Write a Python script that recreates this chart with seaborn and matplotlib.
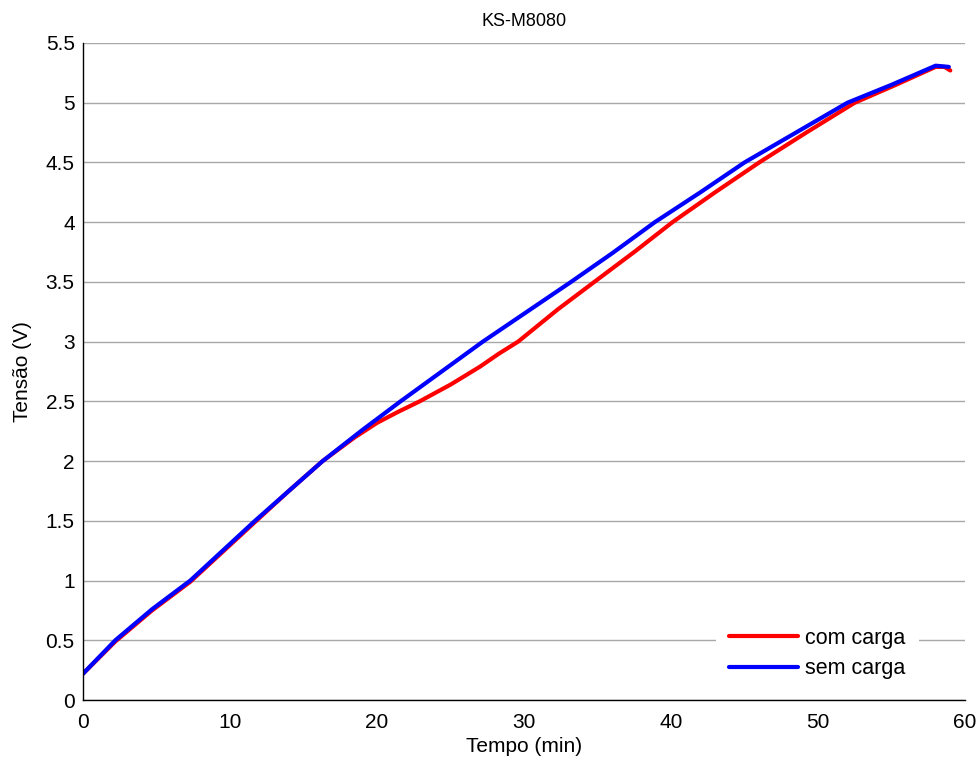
import numpy as np
import pandas as pd
import seaborn as sns
import matplotlib
matplotlib.use("Agg")
import matplotlib.pyplot as plt

# Data
t_com = [0, 1.1, 2.2, 4.7, 7.3, 9.5, 11.7, 14.0, 16.3, 18.5, 20.0, 21.4, 22.9, 25.0, 27.0, 28.3, 29.6,
         32.3, 35.0, 37.6, 40.1, 43.0, 46.0, 49.2, 52.5, 55.3, 58.0, 58.6, 59.0]
v_com = [0.22, 0.355, 0.49, 0.75, 0.99, 1.24, 1.49, 1.75, 2.0, 2.2, 2.32, 2.41, 2.5, 2.64, 2.79, 2.9, 3.0,
         3.27, 3.52, 3.76, 4.0, 4.25, 4.5, 4.75, 5.0, 5.15, 5.30, 5.30, 5.27]
t_sem = [0, 1.1, 2.2, 4.7, 7.3, 9.5, 11.7, 14.0, 16.3, 19.0, 21.6, 24.4, 27.2, 30.2, 33.2, 36.0, 38.9,
         42.0, 45.0, 48.5, 52.0, 55.0, 58.0, 58.9]
v_sem = [0.22, 0.36, 0.5, 0.76, 1.0, 1.25, 1.5, 1.75, 2.0, 2.26, 2.5, 2.75, 3.0, 3.25, 3.5, 3.74, 4.0,
         4.25, 4.5, 4.75, 5.0, 5.15, 5.31, 5.30]
labels = ["com carga", "sem carga"]
colors = ["#ff0000", "#0000ff"]
x_ticks = [0, 10, 20, 30, 40, 50, 60]
y_ticks = [0, 0.5, 1, 1.5, 2, 2.5, 3, 3.5, 4, 4.5, 5, 5.5]
y_ticklabels = ["0", "0.5", "1", "1.5", "2", "2.5", "3", "3.5", "4", "4.5", "5", "5.5"]

df = pd.concat([
    pd.DataFrame({"t": t_com, "v": v_com, "serie": labels[0]}),
    pd.DataFrame({"t": t_sem, "v": v_sem, "serie": labels[1]}),
], ignore_index=True)

sns.set_style("white")
plt.rcParams["font.family"] = ["Liberation Sans", "DejaVu Sans"]
plt.rcParams["text.color"] = "black"
plt.rcParams["axes.labelcolor"] = "black"
plt.rcParams["xtick.color"] = "black"
plt.rcParams["ytick.color"] = "black"

fig = plt.figure(figsize=(9.78, 7.63), dpi=100)
ax = fig.add_axes([83 / 978, 63 / 763, (965 - 83) / 978, (700 - 43) / 763])

sns.lineplot(data=df, x="t", y="v", hue="serie", palette=colors, sort=False,
             linewidth=3.0, ax=ax, estimator=None, legend=True)

ax.set_xlim(0, 60)
ax.set_ylim(0, 5.5)
ax.set_xticks(x_ticks)
ax.set_xticklabels([str(v) for v in x_ticks])
ax.set_yticks(y_ticks)
ax.set_yticklabels(y_ticklabels)
ax.tick_params(axis="both", direction="in", length=5, width=1, labelsize=15, colors="black")
ax.tick_params(axis="x", pad=9)
ax.tick_params(axis="y", pad=6)
ax.yaxis.grid(True, color="#a8a8a8", linewidth=1.0, linestyle="-")
ax.xaxis.grid(False)
ax.set_axisbelow(True)
for s in ["top", "right"]:
    ax.spines[s].set_visible(False)
for s in ["left", "bottom"]:
    ax.spines[s].set_color("black")
    ax.spines[s].set_linewidth(1.0)

ax.set_xlabel("Tempo (min)", fontsize=15, labelpad=4)
ax.set_ylabel("Tensão (V)", fontsize=15, labelpad=10)
ax.set_title("KS-M8080", fontsize=13, pad=12)

leg = ax.legend(loc="center left", bbox_to_anchor=(716 / 978, 1 - 653.5 / 763),
                bbox_transform=fig.transFigure, frameon=True, fontsize=15.5,
                handlelength=3.2, handletextpad=0.35, labelspacing=0.45,
                borderpad=0.6, borderaxespad=0.0)
leg.get_frame().set_facecolor("white")
leg.get_frame().set_edgecolor("none")
leg.get_frame().set_alpha(1.0)
leg.get_frame().set_boxstyle("square", pad=0)
for h in leg.get_lines():
    h.set_linewidth(3.0)

fig.savefig("out.png", dpi=100)
